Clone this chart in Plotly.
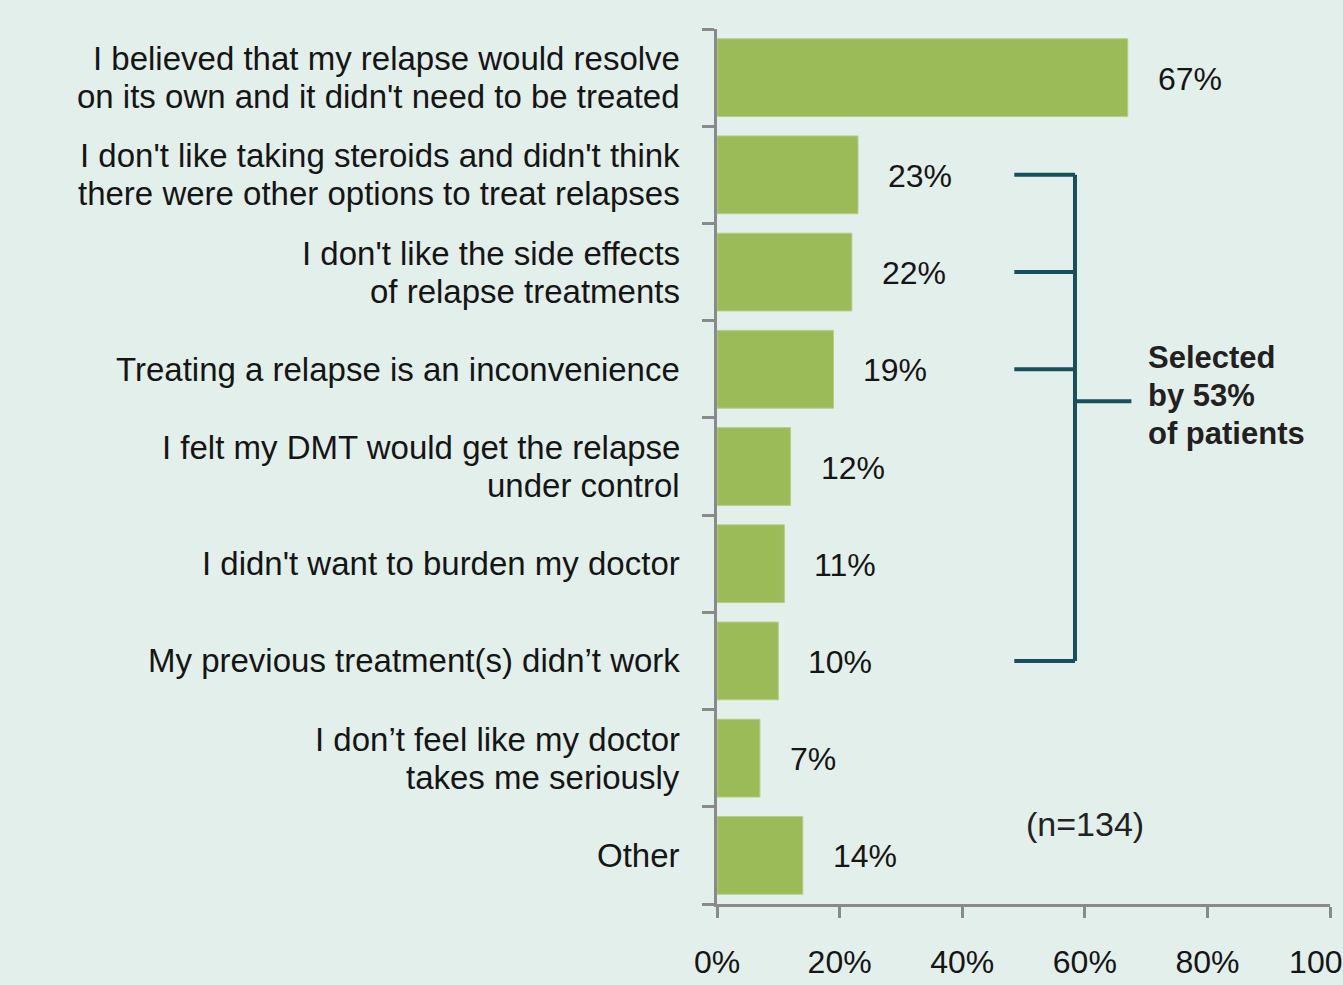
import plotly.graph_objects as go

# Reasons for not treating a relapse (share of respondents)
reasons = [
    "I believed that my relapse would resolve<br>on its own and it didn't need to be treated",
    "I don't like taking steroids and didn't think<br>there were other options to treat relapses",
    "I don't like the side effects<br>of relapse treatments",
    "Treating a relapse is an inconvenience",
    "I felt my DMT would get the relapse<br>under control",
    "I didn't want to burden my doctor",
    "My previous treatment(s) didn\u2019t work",
    "I don\u2019t feel like my doctor<br>takes me seriously",
    "Other",
]
percent = [67, 23, 22, 19, 12, 11, 10, 7, 14]

x_ticks = [0, 20, 40, 60, 80, 100]
x_tick_labels = ["0%", "20%", "40%", "60%", "80%", "100%"]

# Rows grouped by the bracket (indices into reasons)
bracket_rows = [1, 2, 3, 6]
bracket_note = ["Selected", "by 53%", "of patients"]
sample_note = "(n=134)"

BG = "#e3efea"
BAR = "#9bbb59"
AXIS = "#8a8a8a"
BRACKET = "#174f5c"
TEXT = "#151515"
FONT = "Liberation Sans"
LINE_GAP = 38  # px between stacked text lines

fig = go.Figure(
    go.Bar(
        x=percent,
        y=list(range(len(reasons))),
        orientation="h",
        marker=dict(color=BAR, line=dict(color="#b5cf85", width=1)),
        width=0.8,
        hoverinfo="skip",
    )
)


def stacked_lines(lines):
    """Vertical offsets that centre a block of lines on its anchor."""
    n = len(lines)
    return [((n - 1) / 2 - i) * LINE_GAP for i in range(n)]


# Category labels, right-aligned to the left of the value axis
for i, label in enumerate(reasons):
    lines = label.split("<br>")
    for line, dy in zip(lines, stacked_lines(lines)):
        fig.add_annotation(
            xref="paper", x=0, y=i, yref="y", text=line, showarrow=False,
            xanchor="right", xshift=-35, yshift=dy,
            font=dict(size=33, color=TEXT, family=FONT),
        )

# Value labels to the right of each bar
for i, v in enumerate(percent):
    fig.add_annotation(
        x=v, y=i, text=f"{v}%", showarrow=False,
        xanchor="left", xshift=28, yshift=-1,
        font=dict(size=32, color=TEXT, family=FONT),
    )

# Bracket linking the grouped rows
x_stub, x_spine, x_mid = 48.5, 58.4, 67.6
top_row, bottom_row = min(bracket_rows), max(bracket_rows)
for r in bracket_rows:
    fig.add_shape(type="line", xref="x", yref="y", x0=x_stub, x1=x_spine,
                  y0=r, y1=r, line=dict(color=BRACKET, width=4))
fig.add_shape(type="line", xref="x", yref="y", x0=x_spine, x1=x_spine,
              y0=top_row, y1=bottom_row, line=dict(color=BRACKET, width=4))
mid_row = 3.33
fig.add_shape(type="line", xref="x", yref="y", x0=x_spine, x1=x_mid,
              y0=mid_row, y1=mid_row, line=dict(color=BRACKET, width=4))
for line, dy in zip(bracket_note, stacked_lines(bracket_note)):
    fig.add_annotation(
        x=70.0, y=mid_row, text=f"<b>{line}</b>", showarrow=False,
        xanchor="left", yshift=dy + 6,
        font=dict(size=31, color="#231f20", family=FONT),
    )
fig.add_annotation(
    x=60, y=7.68, text=sample_note, showarrow=False,
    xanchor="center",
    font=dict(size=34, color="#222222", family=FONT),
)

fig.update_layout(
    width=1343, height=985,
    margin=dict(l=717, r=13, t=29, b=81),
    paper_bgcolor=BG, plot_bgcolor=BG,
    showlegend=False,
    bargap=0.2,
    font=dict(family=FONT, color=TEXT),
)
fig.update_xaxes(
    range=[0, 100], tickvals=x_ticks, ticktext=x_tick_labels,
    automargin=False,
    showgrid=False, zeroline=False,
    showline=True, linecolor=AXIS, linewidth=3,
    ticks="outside", ticklen=11, tickwidth=3, tickcolor=AXIS,
    ticklabelstandoff=17, ticklabeloverflow="allow",
    tickfont=dict(size=32, color=TEXT, family=FONT),
)
fig.update_yaxes(
    range=[len(reasons) - 0.5, -0.5],
    tickvals=[i - 0.5 for i in range(len(reasons) + 1)],
    showticklabels=False, automargin=False,
    showgrid=False, zeroline=False,
    showline=True, linecolor=AXIS, linewidth=3,
    ticks="outside", ticklen=12, tickwidth=3, tickcolor=AXIS,
)

fig.write_html("out.html")
